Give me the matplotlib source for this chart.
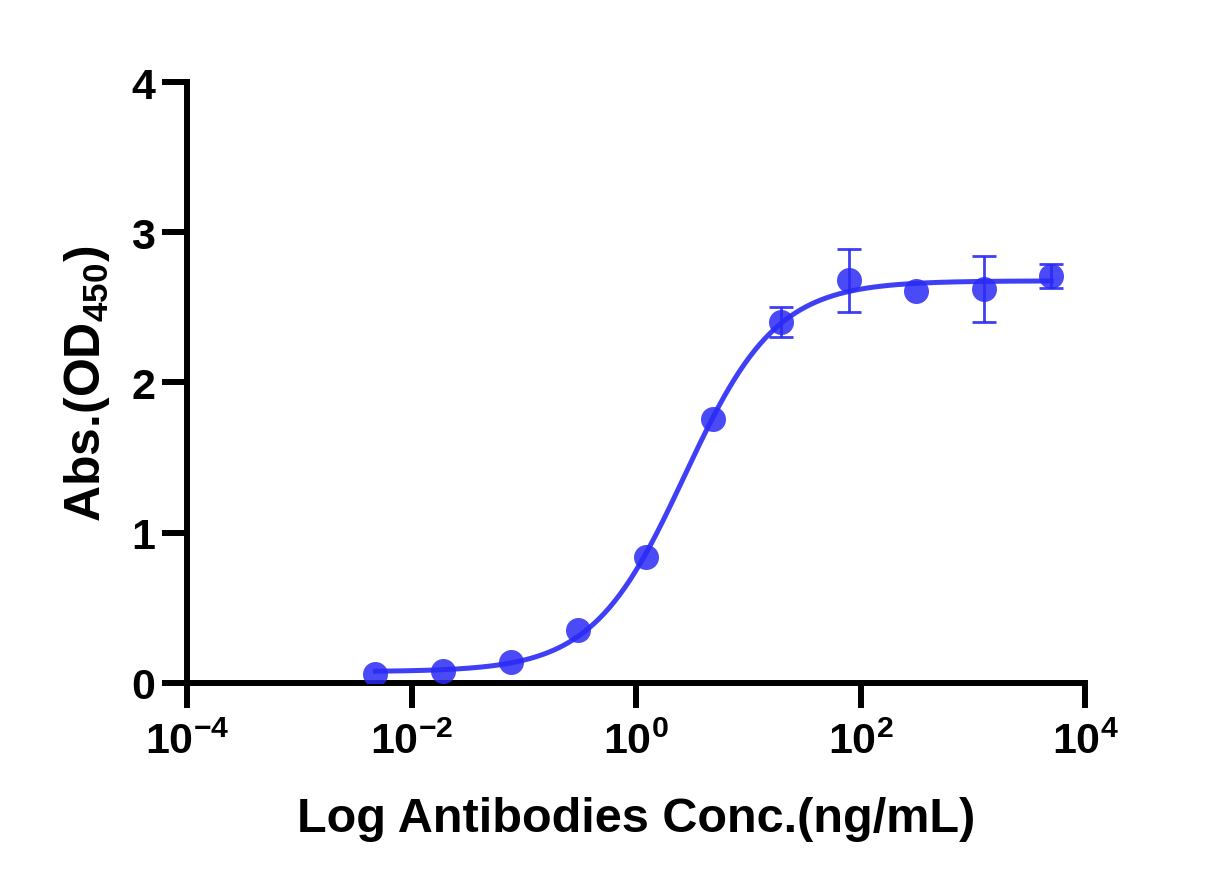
import matplotlib
matplotlib.use("Agg")
import matplotlib.pyplot as plt
import numpy as np
from matplotlib.ticker import FuncFormatter, NullLocator

# data (4-fold dilution series)
conc = np.array([0.00477, 0.0191, 0.0763, 0.305, 1.22, 4.88, 19.5, 78.1, 312.5, 1250, 5000])
od450 = np.array([0.06, 0.08, 0.14, 0.35, 0.84, 1.76, 2.40, 2.68, 2.61, 2.62, 2.71])
od_err = np.array([0.0, 0.0, 0.0, 0.0, 0.0, 0.0, 0.10, 0.21, 0.0, 0.22, 0.08])

x_ticks = [1e-4, 1e-2, 1e0, 1e2, 1e4]
y_ticks = [0, 1, 2, 3, 4]
x_label = "Log Antibodies Conc.(ng/mL)"
y_label = "Abs.(OD$_{450}$)"

blue = "#2a2af5"

plt.rcParams["font.family"] = ["Liberation Sans", "DejaVu Sans"]
plt.rcParams["font.weight"] = "bold"
plt.rcParams["mathtext.default"] = "regular"


def four_pl(x, bottom, top, ec50, hill):
    return bottom + (top - bottom) / (1 + (ec50 / x) ** hill)


# crude 4PL fit: grid over ec50/hill, linear least squares for bottom/top
best = None
for lec in np.linspace(-1, 2, 301):
    for h in np.linspace(0.5, 2.0, 151):
        f = 1 / (1 + (10 ** lec / conc) ** h)
        A = np.column_stack([1 - f, f])
        coef, *_ = np.linalg.lstsq(A, od450, rcond=None)
        res = np.sum((A @ coef - od450) ** 2)
        if best is None or res < best[0]:
            best = (res, coef[0], coef[1], 10 ** lec, h)
_, b, t, ec, h = best

xs = np.logspace(np.log10(conc[0]), np.log10(conc[-1]), 400)

fig = plt.figure(figsize=(12.28, 8.87), dpi=100)
ax = fig.add_axes([0.1523, 0.2289, 0.7313, 0.6775])

ax.plot(xs, four_pl(xs, b, t, ec, h), color=blue, lw=3.6, alpha=0.9, zorder=2)
ax.errorbar(conc, od450, yerr=np.where(od_err > 0, od_err, np.nan), fmt="none",
            ecolor=blue, elinewidth=2, capsize=8.6, capthick=2, alpha=0.9, zorder=3)
ax.plot(conc, od450, "o", color=blue, ms=18, alpha=0.85, mec="none", zorder=4)

ax.set_xscale("log")
ax.set_xlim(1e-4, 1e4)
ax.set_ylim(0, 4)
ax.set_xticks(x_ticks)
ax.xaxis.set_minor_locator(NullLocator())
ax.xaxis.set_major_formatter(FuncFormatter(lambda v, p: "10$^{%d}$" % round(np.log10(v))))
ax.set_yticks(y_ticks)

for side in ["top", "right"]:
    ax.spines[side].set_visible(False)
for side in ["left", "bottom"]:
    ax.spines[side].set_linewidth(4.3)

ax.tick_params(axis="both", which="major", length=18, width=4.3)
ax.tick_params(axis="x", labelsize=31, pad=10)
ax.tick_params(axis="y", labelsize=31, pad=5)
for lbl in ax.get_xticklabels() + ax.get_yticklabels():
    lbl.set_fontweight("bold")

ax.set_xlabel(x_label, fontsize=35, fontweight="bold", labelpad=24)
ax.set_ylabel(y_label, fontsize=36, fontweight="bold", labelpad=14)

fig.savefig("out.png", dpi=100)
